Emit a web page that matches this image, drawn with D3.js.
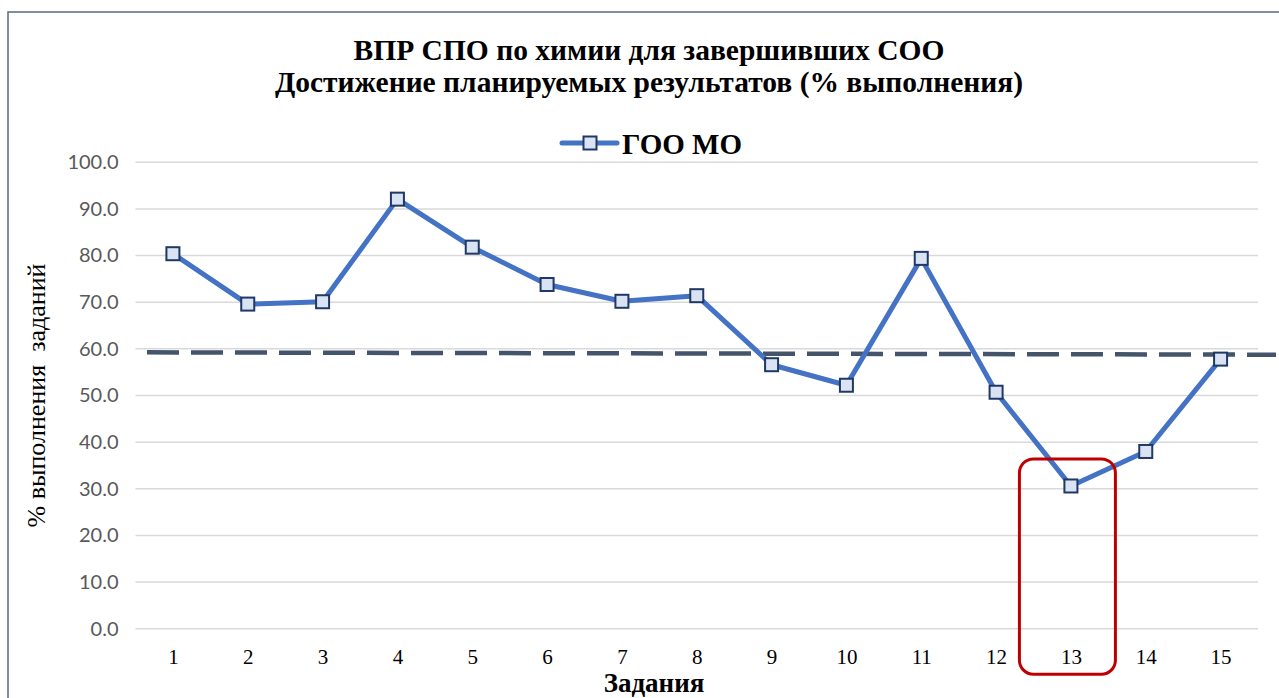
<!DOCTYPE html>
<html>
<head>
<meta charset="utf-8">
<script src="https://cdnjs.cloudflare.com/ajax/libs/d3/7.8.5/d3.min.js"></script>
<style>
  body { margin: 0; background: #fff; }
  .serif { font-family: "Liberation Serif", serif; }
</style>
</head>
<body>
<div id="chart_id"></div>
<script>
// data
var tasks = [1, 2, 3, 4, 5, 6, 7, 8, 9, 10, 11, 12, 13, 14, 15];
var gooMo = [80.4, 69.6, 70.1, 92.1, 81.8, 73.8, 70.2, 71.4, 56.6, 52.2, 79.4, 50.7, 30.6, 38.0, 57.8];
var yTicks = [0, 10, 20, 30, 40, 50, 60, 70, 80, 90, 100];
// dashed reference line (value at left end, value at right end)
var refLine = [59.25, 58.75];
var highlightTask = 13;
var titleLines = ["ВПР СПО по химии для завершивших СОО",
                  "Достижение планируемых результатов (% выполнения)"];
var seriesName = "ГОО МО";

var W = 1279, H = 698;
var plot = {left: 135.5, right: 1258, top: 162.3, bottom: 628.7};

var svg = d3.select("#chart_id")
  .append("svg")
    .attr("width", W)
    .attr("height", H);

svg.append("rect")
    .attr("width", W).attr("height", H)
    .attr("fill", "#fff");

// chart border
svg.append("rect")
    .attr("x", 8).attr("y", 12)
    .attr("width", 1290).attr("height", 720)
    .attr("fill", "none")
    .attr("stroke", "#5a6a7e")
    .attr("stroke-width", 1.5);

var x = d3.scalePoint()
    .domain(tasks)
    .range([plot.left, plot.right])
    .padding(0.5);

var y = d3.scaleLinear()
    .domain([0, 100])
    .range([plot.bottom, plot.top]);

// gridlines
svg.append("g")
  .selectAll("line")
  .data(yTicks)
  .enter()
  .append("line")
    .attr("x1", plot.left)
    .attr("x2", plot.right)
    .attr("y1", function(d) { return y(d); })
    .attr("y2", function(d) { return y(d); })
    .attr("stroke", "#d9d9d9")
    .attr("stroke-width", 1.5);

// y axis labels
var yAxis = svg.append("g")
    .attr("transform", "translate(" + (plot.left - 17) + ",0)")
    .call(d3.axisLeft(y).tickValues(yTicks).tickFormat(d3.format(".1f")).tickSize(0).tickPadding(0));
yAxis.select(".domain").remove();
yAxis.selectAll(".tick text")
    .style("font-family", "Lato, 'Open Sans', sans-serif")
    .style("font-size", "20px")
    .style("fill", "#595959");

// x axis labels
var xAxis = svg.append("g")
    .attr("transform", "translate(0," + plot.bottom + ")")
    .call(d3.axisBottom(x).tickSize(0).tickPadding(0));
xAxis.attr("font-family", null);
xAxis.select(".domain").remove();
xAxis.selectAll(".tick text")
    .attr("dy", null)
    .attr("y", 35)
    .attr("class", "serif")
    .style("font-size", "21px")
    .style("fill", "#000");

// dashed reference line
svg.append("line")
    .attr("x1", 147)
    .attr("x2", 1276)
    .attr("y1", y(refLine[0]))
    .attr("y2", y(refLine[1]))
    .attr("stroke", "#44546a")
    .attr("stroke-width", 4.5)
    .attr("stroke-dasharray", "32,12");

// series line
var line = d3.line()
    .x(function(d, i) { return x(tasks[i]); })
    .y(function(d) { return y(d); });

svg.append("path")
    .datum(gooMo)
    .attr("d", line)
    .attr("fill", "none")
    .attr("stroke", "#4472c4")
    .attr("stroke-width", 5)
    .attr("stroke-linejoin", "round");

// square markers
svg.append("g")
  .selectAll("rect")
  .data(gooMo)
  .enter()
  .append("rect")
    .attr("x", function(d, i) { return x(tasks[i]) - 6.5; })
    .attr("y", function(d) { return y(d) - 6.5; })
    .attr("width", 13)
    .attr("height", 13)
    .attr("fill", "#dae3f3")
    .attr("stroke", "#1f3864")
    .attr("stroke-width", 2);

// red highlight box around task 13
svg.append("rect")
    .attr("x", x(highlightTask) - 51.5)
    .attr("y", y(36.4))
    .attr("width", 96)
    .attr("height", plot.bottom + 45.5 - y(36.4))
    .attr("rx", 14)
    .attr("fill", "none")
    .attr("stroke", "#c00000")
    .attr("stroke-width", 3);

// title
svg.append("g")
  .selectAll("text")
  .data(titleLines)
  .enter()
  .append("text")
    .attr("class", "serif")
    .attr("x", 649)
    .attr("y", function(d, i) { return 60 + i * 32; })
    .attr("text-anchor", "middle")
    .style("font-weight", "bold")
    .style("font-size", "29.5px")
    .text(function(d) { return d; });

// legend
svg.append("line")
    .attr("x1", 562).attr("x2", 617)
    .attr("y1", 143).attr("y2", 143)
    .attr("stroke", "#4472c4")
    .attr("stroke-width", 5)
    .attr("stroke-linecap", "round");
svg.append("rect")
    .attr("x", 590 - 6.5).attr("y", 143 - 6.5)
    .attr("width", 13).attr("height", 13)
    .attr("fill", "#dae3f3")
    .attr("stroke", "#1f3864")
    .attr("stroke-width", 2);
svg.append("text")
    .attr("class", "serif")
    .attr("x", 622)
    .attr("y", 154)
    .style("font-weight", "bold")
    .style("font-size", "29px")
    .text(seriesName);

// axis titles
svg.append("text")
    .attr("class", "serif")
    .attr("transform", "translate(45," + ((plot.top + plot.bottom) / 2) + ") rotate(-90)")
    .attr("text-anchor", "middle")
    .style("white-space", "pre")
    .style("font-size", "26px")
    .text("% выполнения  заданий");

svg.append("text")
    .attr("class", "serif")
    .attr("x", 654)
    .attr("y", 692)
    .attr("text-anchor", "middle")
    .style("font-weight", "bold")
    .style("font-size", "27px")
    .text("Задания");
</script>
</body>
</html>
